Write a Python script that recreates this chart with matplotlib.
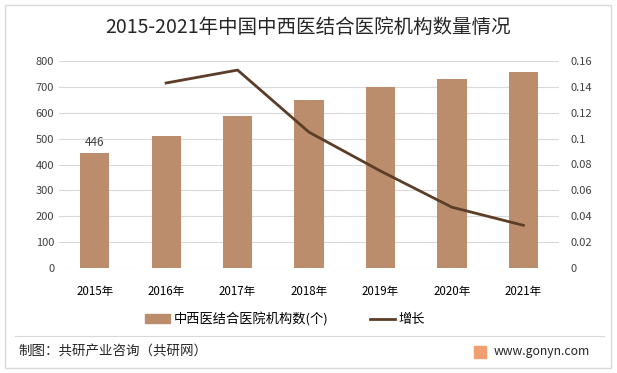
import matplotlib.pyplot as plt
import matplotlib.patches as mpatches
from matplotlib.lines import Line2D

plt.rcParams['font.family'] = ['Noto Sans CJK SC', 'DejaVu Sans']

years = ["2015年", "2016年", "2017年", "2018年", "2019年", "2020年", "2021年"]
counts = [446, 510, 588, 650, 699, 732, 756]
growth_years = ["2016年", "2017年", "2018年", "2019年", "2020年", "2021年"]
growth = [0.143, 0.153, 0.105, 0.075, 0.047, 0.033]

bar_color = "#BB8D6C"
line_color = "#5B3D28"

fig = plt.figure(figsize=(6.17, 3.73), dpi=100)
W, H = 617, 373

# outer frame
fig.patches.append(mpatches.Rectangle((5 / W, 5 / H), 606 / W, 363 / H, transform=fig.transFigure,
                                      fill=False, edgecolor="#D9D9D9", linewidth=1))

ax = fig.add_axes([59 / W, 1 - 268 / H, 500 / W, 207 / H])
x = list(range(len(years)))
ax.bar(x, counts, width=0.41, color=bar_color, zorder=2)
ax.set_ylim(0, 800)
ax.set_yticks(range(0, 801, 100))
ax.set_xlim(-0.5, len(years) - 0.5)
ax.set_xticks(x)
ax.set_xticklabels(years)
ax.grid(axis="y", color="#D9D9D9", linewidth=0.8, zorder=0)
ax.set_axisbelow(True)
for s in ax.spines.values():
    s.set_visible(False)
ax.tick_params(length=0, labelsize=8, colors="#404040")
ax.tick_params(axis="x", pad=12, colors="black", labelsize=8.3)
ax.text(0, counts[0] + 15, str(counts[0]), ha="center", va="bottom", fontsize=8.5, color="#404040")

ax2 = ax.twinx()
gx = [years.index(g) for g in growth_years]
ax2.plot(gx, growth, color=line_color, linewidth=2, zorder=3)
ax2.set_ylim(0, 0.16)
ax2.set_yticks([0, 0.02, 0.04, 0.06, 0.08, 0.1, 0.12, 0.14, 0.16])
ax2.set_yticklabels(["0", "0.02", "0.04", "0.06", "0.08", "0.1", "0.12", "0.14", "0.16"])
for s in ax2.spines.values():
    s.set_visible(False)
ax2.tick_params(length=0, labelsize=8, colors="#404040", pad=8)

fig.text(0.5, 1 - 27 / H, "2015-2021年中国中西医结合医院机构数量情况", ha="center", va="center",
         fontsize=14, color="#262626")

handles = [mpatches.Patch(color=bar_color, label="中西医结合医院机构数(个)"),
           Line2D([0], [0], color=line_color, linewidth=2, label="增长")]
fig.legend(handles=handles, loc="center", bbox_to_anchor=(285 / W, 1 - 319 / H), ncol=2, frameon=False,
           fontsize=9.5, handlelength=1.9, handleheight=0.6, handletextpad=0.3, columnspacing=3.1)

fig.add_artist(Line2D([15 / W, 604 / W], [1 - 336 / H, 1 - 336 / H], color="#D9D9D9", linewidth=0.8))
fig.text(18 / W, 1 - 352 / H, "制图：共研产业咨询（共研网）", ha="left", va="center", fontsize=9.7, color="#262626")
fig.patches.append(mpatches.FancyBboxPatch((474 / W, 1 - 358 / H), 12 / W, 12 / H, transform=fig.transFigure,
                                           boxstyle="square,pad=0", color="#F0A070"))
fig.text(494 / W, 1 - 352 / H, "www.gonyn.com", ha="left", va="center", fontsize=8.8, color="#262626")

fig.savefig("out.png", dpi=100)
